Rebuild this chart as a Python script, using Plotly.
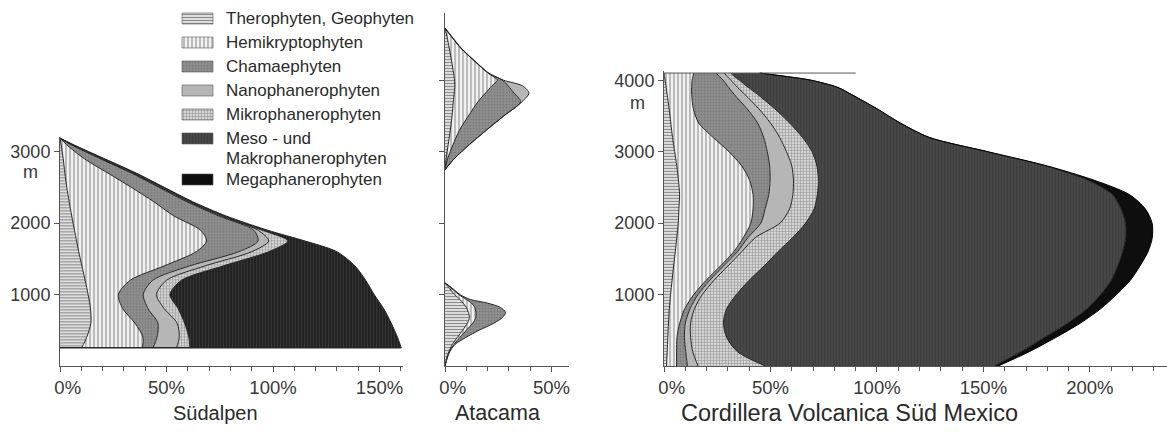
import plotly.graph_objects as go

W, H = 1167, 432
FONT = "Liberation Sans, Arial, Helvetica, sans-serif"

# ---------------------------------------------------------------- data
life_forms = ["Therophyten, Geophyten", "Hemikryptophyten", "Chamaephyten",
              "Nanophanerophyten", "Mikrophanerophyten",
              "Meso - und Makrophanerophyten", "Megaphanerophyten"]
panel_titles = ["Südalpen", "Atacama", "Cordillera Volcanica Süd Mexico"]

# Südalpen: altitude (m) and share (%) of each life form
sud_alt = [254, 400, 600, 800, 1000, 1200, 1400, 1600, 1750, 1900, 2100, 2300, 2500, 2700, 2900, 3100, 3190]
sud_thero = [10.2, 12.5, 14.5, 14.3, 13.2, 11.8, 10.3, 8.8, 7.8, 6.8, 5.5, 4.3, 3.2, 2.3, 1.5, 0.5, 0]
sud_hemi = [28.5, 26.5, 20.7, 15.2, 14.2, 21.2, 38.5, 55.2, 61, 59.2, 48, 39.7, 30.3, 20.2, 10, 2.5, 0]
sud_chamae = [5, 6.5, 10.8, 11.9, 11.7, 10.6, 12, 20, 24.2, 25, 21, 15.5, 13, 11, 7.5, 2, 0]
sud_nano = [11, 10.5, 9, 7.6, 6.2, 6.4, 7.2, 6, 5, 2, 1, 0.8, 0.7, 0.6, 0.5, 0.3, 0]
sud_mikro = [6.3, 4.5, 3.5, 6.5, 6.3, 7, 8.5, 8, 9, 2, 1, 0.7, 0.6, 0.6, 0.5, 0.3, 0]
sud_meso = [99.2, 98, 97, 96.5, 95.9, 86.5, 62, 32, 8, 2.5, 1.5, 1.3, 1.2, 1.1, 1, 0.6, 0]

# Atacama, lower vegetation belt
ata_lo_alt = [0, 100, 200, 300, 400, 500, 600, 680, 750, 820, 880, 930, 1000, 1100, 1163]
ata_lo_thero = [0, 0.7, 1.8, 3.4, 5.8, 8.3, 10.5, 11.5, 11, 10, 8.5, 7, 4.5, 1.8, 0]
ata_lo_hemi = [0, 0.2, 0.3, 0.8, 1.2, 1.7, 2.5, 3, 3.5, 4, 4, 3, 2, 0.7, 0]
ata_lo_chamae = [0, 0, 0.1, 0.4, 2.8, 6, 10, 12.5, 13.9, 12, 7.5, 2, 0.5, 0.5, 0]

# Atacama, upper vegetation belt
ata_hi_alt = [2748, 2900, 3100, 3300, 3500, 3700, 3820, 3920, 4000, 4100, 4250, 4450, 4600, 4730]
ata_hi_thero = [0, 0.5, 1.5, 2.5, 3.3, 3.9, 4.3, 4.6, 4.5, 4, 3.2, 2, 1, 0]
ata_hi_hemi = [0, 0.7, 2.3, 4.3, 7.7, 11.6, 14.7, 17.4, 20, 16.3, 11.3, 5.4, 2.3, 0]
ata_hi_chamae = [0, 3.1, 7.7, 12.6, 16.6, 20, 13.4, 7.7, 2.5, 0, 0, 0, 0, 0]
ata_hi_nano = [0, 0, 0, 0, 0, 0.8, 7, 6.8, 0.5, 0.2, 0.2, 0.2, 0.2, 0]

# Cordillera Volcanica Süd Mexico
cor_alt = [0, 200, 400, 600, 800, 1000, 1200, 1400, 1600, 1800, 2000, 2200,
           2400, 2600, 2800, 3000, 3200, 3400, 3600, 3800, 3900, 4000, 4050, 4100]
cor_thero = [1.2, 1.5, 1.8, 2.1, 2.5, 3.1, 3.8, 4.5, 5.3, 6, 6.7, 7,
             7.3, 6.8, 6, 5, 4, 3.2, 2.4, 1.5, 1.0, 0.5, 0.25, 0]
cor_hemi = [4.7, 4.4, 4.3, 5.3, 7.2, 10.9, 16, 22, 27.5, 31.3, 34.1, 34.8,
            34.5, 33.4, 30.5, 25.5, 19, 13.1, 11.4, 11.5, 12, 12.7, 13.3, 14]
cor_chamae = [5.1, 4.3, 3.5, 2.6, 2.5, 2, 1.7, 1.5, 1.7, 2.2, 4.7, 5.7,
              7.4, 9.6, 13.1, 18, 23.8, 27.7, 25.2, 20, 17.3, 14.6, 12.5, 10.5]
cor_nano = [5, 3.3, 2.9, 2.5, 2.1, 2, 2, 2, 2, 3.5, 9, 11.5,
            11.3, 11, 10.4, 9, 7.5, 6, 5.5, 5, 4.2, 3.6, 3.7, 3.8]
cor_mikro = [31.5, 21, 16.9, 15.4, 15.1, 16, 16.5, 17, 17, 17.5, 12, 11.5,
             11.5, 11.7, 11.8, 12, 10.7, 9, 7.5, 6, 5, 4, 3.4, 3]
cor_meso = [107.5, 133, 149.1, 161.6, 169.1, 171, 170, 166, 161.8, 156.3, 150.2, 144,
            138.5, 126.5, 107.2, 82.1, 59.5, 52, 48, 44, 42, 33.6, 24.8, 13.7]
cor_mega = [2, 4, 5.5, 6, 6.5, 7.5, 9, 10.5, 12, 12.5, 12.5, 11.5,
            8, 3, 1, 0.4, 0, 0, 0, 0, 0, 0, 0, 0]
cor_top_rule = 90  # horizontal rule drawn at the summit level (%)

x_tick_values = [0, 50, 100, 150, 200]

# ---------------------------------------------------------------- styles
STYLES = [
    dict(fill="#e3e3e3", pat=dict(shape="-", size=3, solidity=0.38, fgcolor="#8a8a8a")),
    dict(fill="#f0f0f0", pat=dict(shape="|", size=4, solidity=0.3, fgcolor="#9a9a9a")),
    dict(fill="#8e8e8e", pat=dict(shape=".", size=3, solidity=0.25, fgcolor="#767676")),
    dict(fill="#b6b6b6", pat=None),
    dict(fill="#d4d4d4", pat=dict(shape="+", size=3, solidity=0.3, fgcolor="#8c8c8c")),
    dict(fill="#474747", pat=dict(shape="|", size=3, solidity=0.25, fgcolor="#3b3b3b")),
    dict(fill="#0e0e0e", pat=None),
]
LINE = "#262626"
SUD_DARK = "#222222"  # the forest block of the Südalpen is printed darker

PXM = 0.07145   # pixels per metre
PXP = 2.13      # pixels per percent
Y0 = 366        # pixel row of 0 m


def ydom(top_m):
    return [(H - Y0) / H, (H - (Y0 - top_m * PXM)) / H]


def xdom(x0px, span_pct):
    return [x0px / W, min(1.0, (x0px + span_pct * PXP) / W)]


fig = go.Figure()


def add_stack(group, xa, ya, alts, series, idxs, fill_override=None):
    for vals, i in zip(series, idxs):
        st = STYLES[i]
        fc = st["fill"]
        if fill_override and i in fill_override:
            fc = fill_override[i]
        pat = None
        if st["pat"]:
            pat = dict(st["pat"], bgcolor=fc, fillmode="replace")
        fig.add_trace(go.Scatter(
            x=vals, y=alts, stackgroup=group, orientation="h", mode="lines",
            line=dict(shape="spline", smoothing=0.8, width=1,
                      color="#000000" if i == 6 else LINE),
            fillcolor=fc, fillpattern=pat,
            xaxis=xa, yaxis=ya, showlegend=False, hoverinfo="skip"))


add_stack("sud", "x", "y", sud_alt,
          [sud_thero, sud_hemi, sud_chamae, sud_nano, sud_mikro, sud_meso],
          [0, 1, 2, 3, 4, 5], fill_override={5: SUD_DARK})
sud_total = sum(s[0] for s in [sud_thero, sud_hemi, sud_chamae, sud_nano, sud_mikro, sud_meso])
fig.add_trace(go.Scatter(x=[0, sud_total], y=[sud_alt[0], sud_alt[0]], mode="lines",
                         line=dict(color=LINE, width=1.5), xaxis="x", yaxis="y",
                         showlegend=False, hoverinfo="skip"))

add_stack("ata_lo", "x2", "y2", ata_lo_alt,
          [ata_lo_thero, ata_lo_hemi, ata_lo_chamae], [0, 1, 2])
add_stack("ata_hi", "x2", "y2", ata_hi_alt,
          [ata_hi_thero, ata_hi_hemi, ata_hi_chamae, ata_hi_nano], [0, 1, 2, 3])

add_stack("cor", "x3", "y3", cor_alt,
          [cor_thero, cor_hemi, cor_chamae, cor_nano, cor_mikro, cor_meso, cor_mega],
          [0, 1, 2, 3, 4, 5, 6])
fig.add_trace(go.Scatter(x=[0, cor_top_rule], y=[cor_alt[-1], cor_alt[-1]], mode="lines",
                         line=dict(color="#555555", width=1), xaxis="x3", yaxis="y3",
                         showlegend=False, hoverinfo="skip"))

# ---------------------------------------------------------------- legend (manual)
LEG_X0, LEG_X1 = 170, 440
LEG_Y0, LEG_Y1 = 4, 194
LEG_FS = 17
row_y = []
y = 18.5
for name in life_forms:
    row_y.append(y)
    y += 24 + (17 if " - und" in name else 0)
for i, (name, cy) in enumerate(zip(life_forms, row_y)):
    st = STYLES[i]
    pat = None
    if st["pat"]:
        pat = dict(st["pat"], bgcolor=st["fill"], fillmode="replace")
    fig.add_trace(go.Scatter(
        x=[182, 213, 213, 182, 182], y=[cy - 5.5, cy - 5.5, cy + 5.5, cy + 5.5, cy - 5.5],
        mode="lines", fill="toself", fillcolor=st["fill"], fillpattern=pat,
        line=dict(color="#555555", width=0.6), xaxis="x4", yaxis="y4",
        showlegend=False, hoverinfo="skip"))
    lines = name.replace(" - und ", " - und\n").split("\n")
    for j, txt in enumerate(lines):
        fig.add_annotation(x=224, y=cy + 20 * j, xref="x4", yref="y4", text=txt,
                           showarrow=False, xanchor="left", yanchor="middle",
                           font=dict(family=FONT, size=LEG_FS, color="#2a2a2a"))

# ---------------------------------------------------------------- axes
tickfont = dict(family=FONT, size=18.5, color="#383838")


def pct_label(v):
    # the printed "0 %" sits with its digit under the tick
    return ("\u00a0\u00a0\u00a0" if v == 0 else "") + f"{v}%"


def xaxis(domain, rng, anchor):
    vals = [v for v in x_tick_values if v <= rng[1]]
    return dict(domain=domain, range=rng, anchor=anchor, showline=True, linecolor="#555555",
                linewidth=1, ticks="outside", ticklen=5, tickcolor="#555555",
                tickmode="array", tickvals=vals, ticktext=[pct_label(v) for v in vals],
                showgrid=False, zeroline=False, tickfont=tickfont,
                minor=dict(ticks="outside", tick0=0, dtick=10, ticklen=4, tickcolor="#555555",
                           showgrid=False),
                automargin=False, fixedrange=True)


def yaxis(domain, rng, anchor, tickvals, labels=True):
    return dict(domain=domain, range=rng, anchor=anchor, showline=True, linecolor="#555555",
                linewidth=1, ticks="outside", ticklen=5, tickcolor="#555555",
                tickvals=tickvals, showticklabels=labels, showgrid=False, zeroline=False,
                tickfont=dict(tickfont, size=18), ticklabelstandoff=0,
                automargin=False, fixedrange=True)


sud_top, ata_top, cor_top = 3200, 4940, 4130
fig.update_layout(
    width=W, height=H, margin=dict(l=0, r=0, t=0, b=0, pad=0, autoexpand=False),
    paper_bgcolor="white", plot_bgcolor="rgba(0,0,0,0)",
    font=dict(family=FONT, color="#2a2a2a"),
    showlegend=False,
    xaxis=xaxis(xdom(60, 161), [0, 161], "y"),
    yaxis=yaxis(ydom(sud_top), [0, sud_top], "x", [1000, 2000, 3000]),
    xaxis2=xaxis(xdom(445, 58), [0, 58], "y2"),
    yaxis2=yaxis(ydom(ata_top), [0, ata_top], "x2", [1000, 2000, 3000, 4000], labels=False),
    xaxis3=xaxis(xdom(664, 236.2), [0, 236.2], "y3"),
    yaxis3=yaxis(ydom(cor_top), [0, cor_top], "x3", [1000, 2000, 3000, 4000]),
    xaxis4=dict(domain=[LEG_X0 / W, LEG_X1 / W], range=[LEG_X0, LEG_X1], visible=False,
                anchor="y4", fixedrange=True),
    yaxis4=dict(domain=[(H - LEG_Y1) / H, (H - LEG_Y0) / H], range=[LEG_Y1, LEG_Y0],
                visible=False, anchor="x4", fixedrange=True),
)

# unit labels
fig.add_annotation(x=30 / W, y=(Y0 - 172) / PXM, xref="paper", yref="y", text="m",
                   showarrow=False, xanchor="center", yanchor="middle",
                   font=dict(family=FONT, size=18, color="#383838"))
fig.add_annotation(x=637 / W, y=(Y0 - 103) / PXM, xref="paper", yref="y3", text="m",
                   showarrow=False, xanchor="center", yanchor="middle",
                   font=dict(family=FONT, size=18, color="#383838"))

# panel titles
for title, cx, fs in zip(panel_titles, [215, 497, 849], [20, 21.5, 23.5]):
    fig.add_annotation(x=cx / W, y=(H - 413) / H, xref="paper", yref="paper", text=title,
                       showarrow=False, xanchor="center", yanchor="middle",
                       font=dict(family=FONT, size=fs, color="#2a2a2a"))

fig.write_html("out.html")
